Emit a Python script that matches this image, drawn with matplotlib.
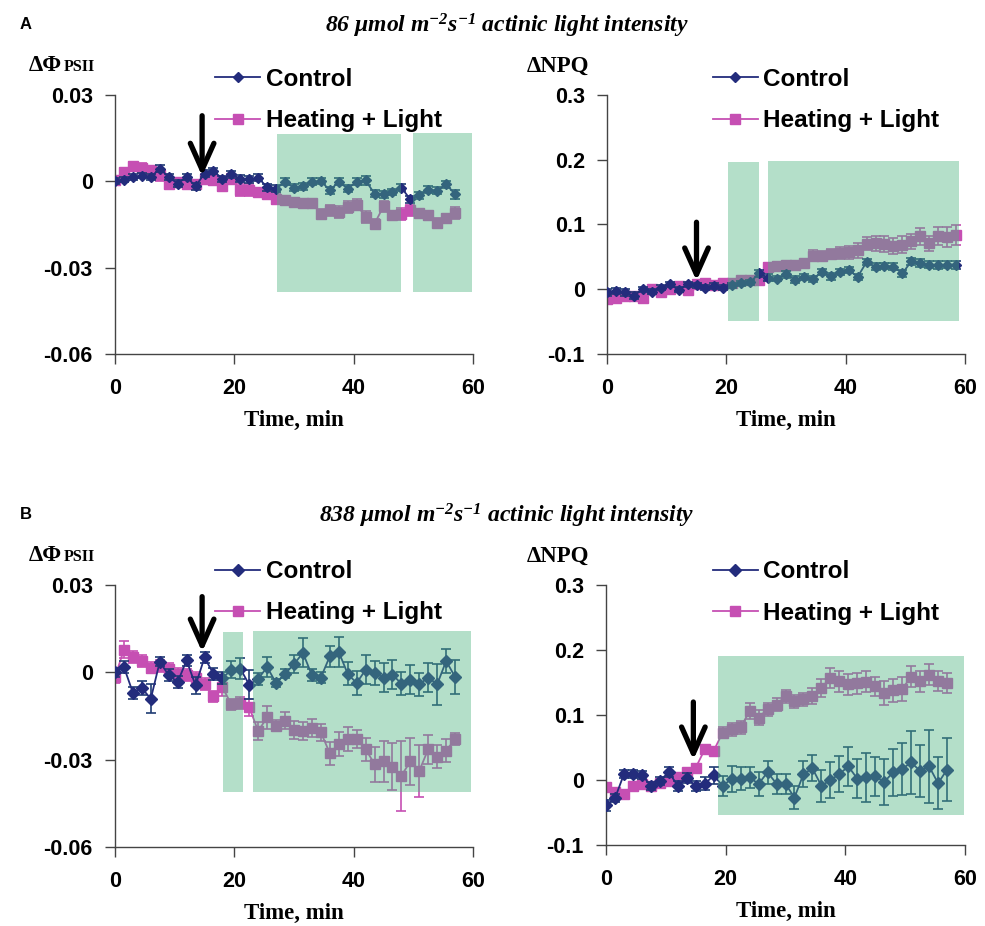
import numpy as np
import matplotlib
matplotlib.use('Agg')
import matplotlib.pyplot as plt
from matplotlib.patches import Rectangle
from matplotlib.lines import Line2D

plt.rcParams['font.family'] = 'Liberation Sans'
plt.rcParams['mathtext.fontset'] = 'custom'
plt.rcParams['mathtext.rm'] = 'Liberation Serif:bold:italic'
plt.rcParams['mathtext.it'] = 'Liberation Serif:bold:italic'
plt.rcParams['mathtext.bf'] = 'Liberation Serif:bold:italic'

# time points (min)
t39 = [0, 1.5, 3, 4.5, 6, 7.5, 9, 10.5, 12, 13.5, 15, 16.5, 18, 19.5, 21, 22.5,
       24, 25.5, 27, 28.5, 30, 31.5, 33, 34.5, 36, 37.5, 39, 40.5, 42, 43.5,
       45, 46.5, 48, 49.5, 51, 52.5, 54, 55.5, 57]
t40 = t39 + [58.5]

# A, dPhiPSII
a1_ctrl = [0, 0.0006, 0.0015, 0.002, 0.0015, 0.0044, 0.0015, -0.0008, 0.0015,
           -0.0017, 0.0027, 0.0036, 0.0009, 0.0024, 0.0009, 0.0007, 0.0012,
           -0.002, -0.0025, -0.0002, -0.0022, -0.0017, -0.0002, 0.0001, -0.0031,
           -0.0002, -0.0025, -0.0002, 0.0003, -0.0043, -0.0045, -0.0037,
           -0.0022, -0.0063, -0.0048, -0.0029, -0.0033, -0.001, -0.0045]
a1_ctrl_err = [0.001, 0.001, 0.0012, 0.001, 0.0012, 0.0012, 0.001, 0.0012,
               0.001, 0.0012, 0.0012, 0.0012, 0.001, 0.0012, 0.0012, 0.0012,
               0.0012, 0.0012, 0.0012, 0.0012, 0.0012, 0.0012, 0.0012, 0.0012,
               0.0012, 0.0012, 0.0012, 0.0012, 0.0015, 0.0012, 0.0012, 0.0012,
               0.0012, 0.0012, 0.0012, 0.0012, 0.0012, 0.0012, 0.0015]
a1_heat = [0.0006, 0.0032, 0.0052, 0.0047, 0.0038, 0.0021, -0.001, -0.0002,
           -0.001, -0.001, 0.0009, 0.0003, -0.0017, 0.0009, -0.0031, -0.0031,
           -0.0037, -0.0045, -0.006, -0.0066, -0.0072, -0.0075, -0.0077,
           -0.0112, -0.0101, -0.0106, -0.0089, -0.0081, -0.0124, -0.0147,
           -0.0087, -0.0118, -0.0114, -0.0101, -0.011, -0.0118, -0.0144,
           -0.0129, -0.011]
a1_heat_err = [0.0012, 0.0015, 0.0015, 0.0015, 0.0015, 0.002, 0.0015, 0.0015,
               0.0015, 0.0015, 0.0015, 0.0015, 0.0015, 0.0015, 0.002, 0.002,
               0.0015, 0.0015, 0.002, 0.0015, 0.0015, 0.0015, 0.0015, 0.0015,
               0.002, 0.002, 0.002, 0.002, 0.002, 0.0015, 0.002, 0.0015, 0.002,
               0.002, 0.0015, 0.0015, 0.0015, 0.0015, 0.002]

# A, dNPQ
a2_ctrl = [-0.005, -0.0026, -0.005, -0.01, 0, -0.004, 0.0026, 0.0077, -0.001,
           0.0077, 0.006, 0.0026, 0.005, 0.0026, 0.006, 0.009, 0.011, 0.0245,
           0.018, 0.016, 0.023, 0.015, 0.019, 0.016, 0.0265, 0.02, 0.0265, 0.03,
           0.019, 0.042, 0.035, 0.036, 0.035, 0.0245, 0.043, 0.04, 0.038, 0.037,
           0.038, 0.038]
a2_ctrl_err = [0.006, 0.004, 0.005, 0.005, 0.004, 0.004, 0.004, 0.004, 0.004,
               0.004, 0.004, 0.004, 0.004, 0.004, 0.004, 0.004, 0.004, 0.005,
               0.005, 0.004, 0.005, 0.005, 0.005, 0.005, 0.005, 0.005, 0.005,
               0.005, 0.005, 0.005, 0.005, 0.005, 0.005, 0.005, 0.005, 0.006,
               0.005, 0.006, 0.005, 0.006]
a2_heat = [-0.015, -0.013, -0.01, -0.011, -0.013, 0.001, -0.005, 0, 0.005,
           -0.001, 0.0077, 0.009, 0.006, 0.01, 0.009, 0.015, 0.014, 0.015,
           0.035, 0.036, 0.037, 0.037, 0.04, 0.052, 0.051, 0.054, 0.056, 0.057,
           0.06, 0.07, 0.071, 0.07, 0.067, 0.069, 0.074, 0.082, 0.071, 0.082,
           0.081, 0.084]
a2_heat_err = [0.006, 0.005, 0.005, 0.005, 0.005, 0.004, 0.004, 0.004, 0.004,
               0.004, 0.004, 0.004, 0.004, 0.004, 0.004, 0.004, 0.004, 0.004,
               0.006, 0.006, 0.006, 0.006, 0.007, 0.008, 0.008, 0.008, 0.01,
               0.01, 0.012, 0.01, 0.012, 0.012, 0.012, 0.013, 0.012, 0.013,
               0.012, 0.014, 0.015, 0.015]

# B, dPhiPSII
b1_ctrl = [0, 0.0018, -0.007, -0.0054, -0.0091, 0.0036, -0.001, -0.0033,
           0.0041, -0.0045, 0.0051, -0.0005, -0.002, 0.0009, 0.0013, -0.0043,
           -0.0022, 0.0018, -0.0037, -0.0005, 0.0028, 0.0067, -0.001, -0.0018,
           0.0055, 0.007, -0.0005, -0.0037, 0.0009, -0.0002, -0.0018, -0.0008,
           -0.0039, -0.0025, -0.0041, -0.0018, -0.0041, 0.0039, -0.0016]
b1_ctrl_err = [0.0015, 0.002, 0.002, 0.0025, 0.005, 0.0015, 0.002, 0.002,
               0.002, 0.003, 0.002, 0.002, 0.002, 0.003, 0.0035, 0.005, 0.002,
               0.0035, 0.0015, 0.0015, 0.003, 0.005, 0.002, 0.002, 0.0035,
               0.005, 0.004, 0.004, 0.005, 0.004, 0.005, 0.005, 0.004, 0.005,
               0.004, 0.005, 0.007, 0.004, 0.006]
b1_heat = [-0.0016, 0.0078, 0.0053, 0.0039, 0.0016, 0.0021, 0.0013, -0.0005,
           -0.001, -0.0018, -0.0041, -0.0083, -0.0051, -0.011, -0.0106, -0.012,
           -0.0202, -0.0154, -0.0183, -0.0166, -0.0198, -0.0202, -0.0191,
           -0.0206, -0.0278, -0.0246, -0.0229, -0.0229, -0.0264, -0.0315,
           -0.0306, -0.0324, -0.0355, -0.0306, -0.0338, -0.0264, -0.029,
           -0.0269, -0.0229]
b1_heat_err = [0.002, 0.003, 0.002, 0.002, 0.002, 0.002, 0.002, 0.002, 0.002,
               0.002, 0.002, 0.002, 0.003, 0.002, 0.002, 0.003, 0.003, 0.004,
               0.002, 0.003, 0.003, 0.003, 0.003, 0.003, 0.004, 0.004, 0.004,
               0.003, 0.004, 0.006, 0.007, 0.008, 0.012, 0.008, 0.009, 0.005,
               0.004, 0.004, 0.002]

# B, dNPQ
b2_ctrl = [-0.039, -0.028, 0.009, 0.009, 0.008, -0.009, -0.001, 0.012, -0.009,
           0.003, -0.009, -0.006, 0.007, -0.009, 0.002, 0.002, 0.004, -0.006,
           0.012, -0.006, -0.006, -0.027, 0.009, 0.018, -0.009, 0, 0.009,
           0.021, 0.002, 0.004, 0.006, -0.003, 0.012, 0.017, 0.027, 0.014,
           0.021, -0.005, 0.016]
b2_ctrl_err = [0.008, 0.006, 0.006, 0.006, 0.006, 0.006, 0.006, 0.008, 0.008,
               0.008, 0.008, 0.01, 0.013, 0.015, 0.02, 0.018, 0.016, 0.018,
               0.018, 0.015, 0.015, 0.018, 0.02, 0.02, 0.025, 0.028, 0.028,
               0.03, 0.03, 0.038, 0.03, 0.035, 0.036, 0.04, 0.048, 0.04, 0.056,
               0.04, 0.048]
b2_heat = [-0.011, -0.019, -0.021, -0.009, -0.006, -0.009, -0.004, -0.001,
           0.004, 0.012, 0.019, 0.047, 0.045, 0.073, 0.078, 0.081, 0.106, 0.096,
           0.109, 0.116, 0.129, 0.121, 0.124, 0.129, 0.142, 0.157, 0.152, 0.147,
           0.149, 0.151, 0.144, 0.134, 0.138, 0.14, 0.159, 0.152, 0.162, 0.152,
           0.149]
b2_heat_err = [0.005, 0.005, 0.005, 0.004, 0.005, 0.005, 0.005, 0.005, 0.005,
               0.005, 0.005, 0.006, 0.006, 0.008, 0.01, 0.01, 0.012, 0.012,
               0.01, 0.01, 0.01, 0.01, 0.01, 0.012, 0.014, 0.015, 0.016, 0.016,
               0.016, 0.016, 0.015, 0.018, 0.018, 0.018, 0.016, 0.016, 0.016,
               0.015, 0.015]

# shaded regions: (t_start, t_end, y_low, y_high)
a1_shade = [(27.2, 48.0, -0.0385, 0.0165), (50.0, 59.9, -0.0385, 0.0168)]
a2_shade = [(20.2, 25.5, -0.049, 0.197), (27.0, 59.0, -0.049, 0.198)]
b1_shade = [(18.1, 21.5, -0.041, 0.0139), (23.1, 59.6, -0.041, 0.0142)]
b2_shade = [(18.8, 59.9, -0.054, 0.191)]

# arrows: (t, y_top, y_tip)
a1_arrow = (14.6, 0.0228, 0.0018)
a2_arrow = (15.0, 0.1035, 0.013)
b1_arrow = (14.6, 0.026, 0.007)
b2_arrow = (14.6, 0.12, 0.031)

phi_ticks = [-0.06, -0.03, 0, 0.03]
phi_labels = ['-0.06', '-0.03', '0', '0.03']
npq_ticks = [-0.1, 0, 0.1, 0.2, 0.3]
npq_labels = ['-0.1', '0', '0.1', '0.2', '0.3']

NAVY = '#232c7c'
NAVY_ERR = '#1f3c73'
PINK = '#c64fb3'
SHADE = '#4cb57f'

W, H = 985, 926
fig = plt.figure(figsize=(9.85, 9.26), dpi=100)


def px_axes(l, t, r, b):
    return fig.add_axes([l / W, 1 - b / H, (r - l) / W, (b - t) / H])


def draw_panel(ax, tc, ctrl, cerr, th, heat, herr, shades, arrow, ylim,
               ticks, labels, ms, leg_x, leg_y):
    ax.errorbar(th, heat, yerr=herr, color=PINK, marker='s', ms=ms, mec=PINK,
                lw=1.3, elinewidth=1.2, capsize=3.5, capthick=1.2, zorder=2)
    ax.errorbar(tc, ctrl, yerr=cerr, color=NAVY, marker='D', ms=ms * 0.85,
                mec=NAVY, lw=1.3, ecolor=NAVY_ERR, elinewidth=1.2, capsize=3.5,
                capthick=1.2, zorder=3)
    for x0, x1, y0, y1 in shades:
        ax.add_patch(Rectangle((x0, y0), x1 - x0, y1 - y0, facecolor=SHADE,
                               edgecolor='none', alpha=0.42, zorder=4))
    xa, ytop, ytip = arrow
    ax.annotate('', xy=(xa, ytip), xytext=(xa, ytop),
                arrowprops=dict(arrowstyle='->,head_length=1.9,head_width=0.85',
                                color='black', lw=3.8, shrinkA=0, shrinkB=0),
                zorder=6, annotation_clip=False)
    ax.set_xlim(0, 60)
    ax.set_ylim(*ylim)
    ax.set_xticks([0, 20, 40, 60])
    ax.set_yticks(ticks)
    ax.set_yticklabels(labels)
    for s in ['top', 'right']:
        ax.spines[s].set_visible(False)
    for s in ['left', 'bottom']:
        ax.spines[s].set_color('#444444')
        ax.spines[s].set_linewidth(1.0)
    ax.tick_params(direction='out', length=7, width=1.0, color='#444444',
                   labelsize=15.5)
    ax.tick_params(axis='y', pad=9)
    ax.tick_params(axis='x', pad=10)
    for lab in ax.get_xticklabels() + ax.get_yticklabels():
        lab.set_fontweight('bold')
    ax.set_xlabel('Time, min', family='Liberation Serif', fontweight='bold',
                  fontsize=16.5, labelpad=8)
    handles = [Line2D([], [], color=NAVY, lw=1.3, marker='D', ms=ms * 0.85),
               Line2D([], [], color=PINK, lw=1.3, marker='s', ms=ms)]
    ax.legend(handles, ['Control', 'Heating + Light'], loc='upper left',
              bbox_to_anchor=(leg_x, leg_y), frameon=False,
              handlelength=1.85, handletextpad=0.22, labelspacing=0.75,
              borderaxespad=0, borderpad=0,
              prop={'family': 'Liberation Sans', 'weight': 'bold',
                    'size': 17.5})
    return ax


ax1 = px_axes(115, 95, 473, 354)
draw_panel(ax1, t39, a1_ctrl, a1_ctrl_err, t39, a1_heat, a1_heat_err,
           a1_shade, a1_arrow, (-0.06, 0.03), phi_ticks, phi_labels, 6.5,
           0.28, 1.105)
ax2 = px_axes(607, 95, 965, 354)
draw_panel(ax2, t40, a2_ctrl, a2_ctrl_err, t40, a2_heat, a2_heat_err,
           a2_shade, a2_arrow, (-0.1, 0.3), npq_ticks, npq_labels, 6.5,
           0.296, 1.105)
ax3 = px_axes(115, 585, 473, 847)
draw_panel(ax3, t39, b1_ctrl, b1_ctrl_err, t39, b1_heat, b1_heat_err,
           b1_shade, b1_arrow, (-0.06, 0.03), phi_ticks, phi_labels, 7.5,
           0.28, 1.095)
ax4 = px_axes(606, 585, 965, 845)
draw_panel(ax4, t39, b2_ctrl, b2_ctrl_err, t39, b2_heat, b2_heat_err,
           b2_shade, b2_arrow, (-0.1, 0.3), npq_ticks, npq_labels, 7.5,
           0.298, 1.095)


def ftext(x, y, s, **kw):
    fig.text(x / W, 1 - y / H, s, **kw)


serif_b = dict(family='Liberation Serif', fontweight='bold', va='baseline')
ftext(20, 29, 'A', family='Liberation Sans', fontweight='bold', fontsize=12)
ftext(20, 519, 'B', family='Liberation Sans', fontweight='bold', fontsize=12)
ftext(507, 32, r'86 $\mu$mol m$^{-2}$s$^{-1}$ actinic light intensity',
      ha='center', fontsize=17, style='italic', **serif_b)
ftext(507, 522, r'838 $\mu$mol m$^{-2}$s$^{-1}$ actinic light intensity',
      ha='center', fontsize=17, style='italic', **serif_b)
for yb in (71, 561):
    ftext(29, yb, '\u0394\u03a6', fontsize=16.5, **serif_b)
    ftext(64, yb, 'PSII', fontsize=11.5, **serif_b)
    ftext(527, yb + 1, '\u0394NPQ', fontsize=16.5, **serif_b)

fig.savefig('out.png', dpi=100)
